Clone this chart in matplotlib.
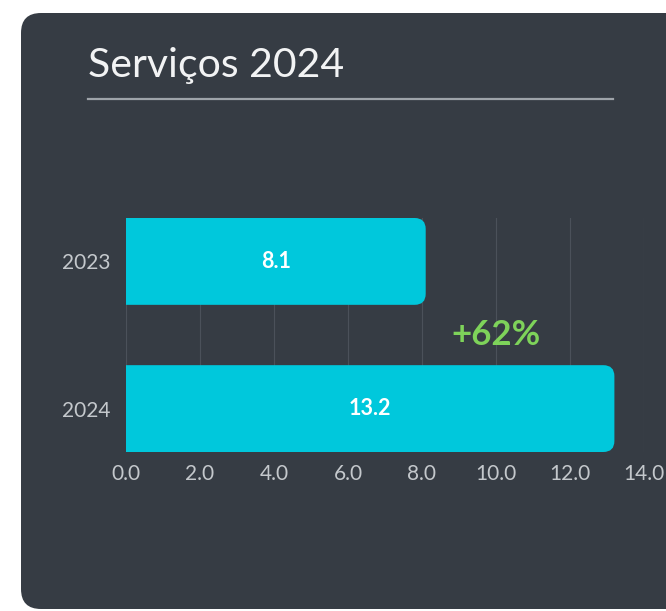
import matplotlib
matplotlib.use("Agg")
import matplotlib.pyplot as plt
from matplotlib.patches import FancyBboxPatch
from matplotlib.ticker import MultipleLocator, FuncFormatter

categories = ["2023", "2024"]
values = [8.1, 13.2]
title = "Serviços 2024"
change_label = "+62%"

W, H = 666, 611
DPI = 100
fig = plt.figure(figsize=(W / DPI, H / DPI), dpi=DPI)
fig.patch.set_facecolor("white")

card_color = "#363c44"
bar_color = "#00c8dc"
grid_color = "#4b515a"
tick_color = "#c4c8cc"
font = ["Lato", "DejaVu Sans"]

# card background (figure pixel coords)
card = FancyBboxPatch((21 / W, 1 - 609 / H), (W + 40 - 21) / W, (609 - 13) / H,
                      boxstyle="round,pad=0,rounding_size=0.03",
                      transform=fig.transFigure, facecolor=card_color,
                      edgecolor="none", mutation_aspect=W / H, zorder=-10)
fig.patches.append(card)

# title and underline
fig.text(88 / W, 1 - 66 / H, title, color="#f2f3f4", fontsize=29.5,
         family=font, va="center", ha="left")
fig.add_artist(plt.Line2D([88 / W, 613 / W], [1 - 99 / H, 1 - 99 / H],
                          transform=fig.transFigure, color="#9ea3a9", lw=1.6))

ax = fig.add_axes([126 / W, 1 - 452 / H, (644 - 126) / W, (452 - 218) / H])
ax.set_zorder(5)
ax.set_facecolor("none")
ax.set_xlim(0, 14)
bar_h = 0.59
ax.set_ylim(1 + bar_h / 2, -bar_h / 2)

ax.xaxis.set_major_locator(MultipleLocator(2))
ax.xaxis.set_major_formatter(FuncFormatter(lambda v, p: f"{v:.1f}"))
ax.set_yticks(range(len(categories)))
ax.set_yticklabels(categories)
ax.grid(axis="x", color=grid_color, lw=0.8)
ax.set_axisbelow(True)
for s in ax.spines.values():
    s.set_visible(False)
ax.tick_params(length=0, colors=tick_color, labelsize=15)
ax.tick_params(axis="y", pad=11)
ax.tick_params(axis="x", pad=9)
for lab in ax.get_xticklabels() + ax.get_yticklabels():
    lab.set_family(font)

# rounded bars (right side rounded)
px_x = (644 - 126) / 14.0
px_y = (452 - 218) / (1 + bar_h)
r = 11 / px_x
for i, v in enumerate(values):
    p = FancyBboxPatch((-1.0, i - bar_h / 2), v + 1.0, bar_h,
                       boxstyle=f"round,pad=0,rounding_size={r}",
                       mutation_aspect=px_x / px_y,
                       facecolor=bar_color, edgecolor="none", zorder=2)
    ax.add_patch(p)
    ax.text(v / 2, i, f"{v:.1f}", color="white", fontsize=15.5, fontweight="bold",
            family=font, ha="center", va="center", zorder=3)

ax.text(10.0, 0.5, change_label, color="#7ed35a", fontsize=25, fontweight="bold",
        family=font, ha="center", va="center", zorder=3)

fig.savefig("out.png", dpi=DPI, facecolor=fig.get_facecolor())
